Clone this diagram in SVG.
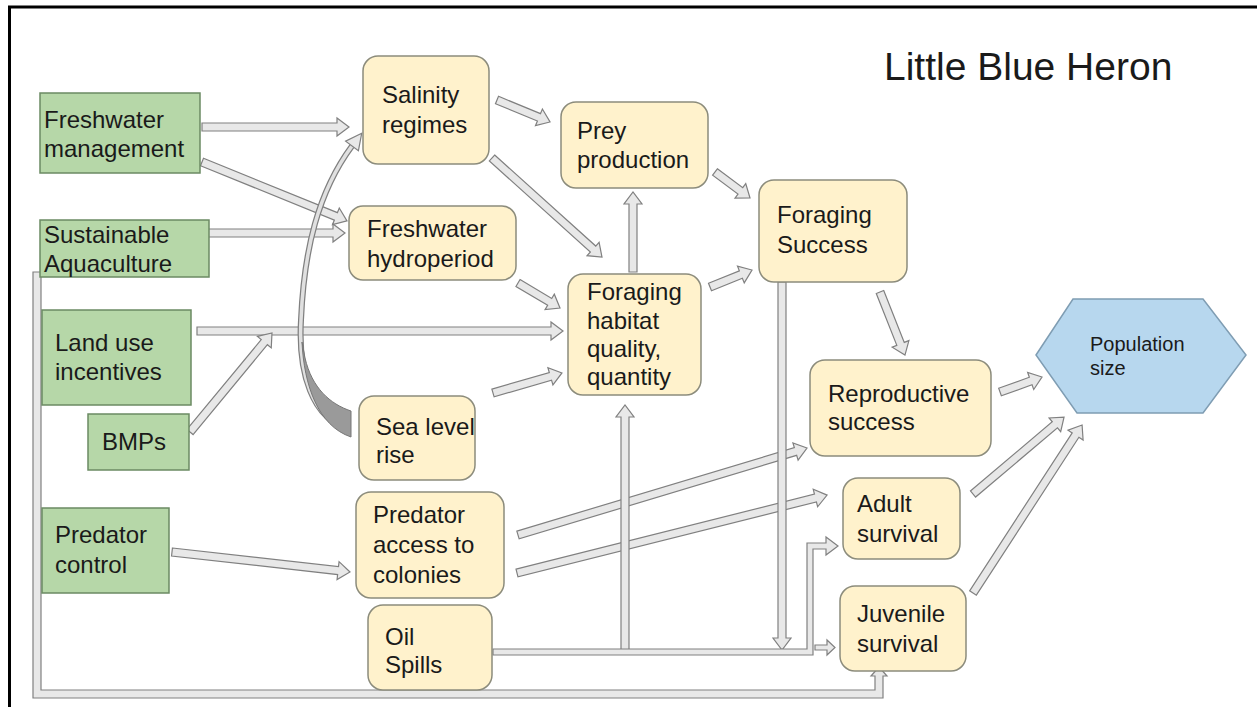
<svg xmlns="http://www.w3.org/2000/svg" width="1257" height="707" viewBox="0 0 1257 707">
<style>
.g{fill:#b6d7a8;stroke:#6b8a63;stroke-width:1.5}
.b{fill:#fff2cc;stroke:#8c8c7c;stroke-width:1.5}
.h{fill:#b7d7ee;stroke:#7f9db3;stroke-width:1.5}
.t{font-family:"Liberation Sans",Arial,sans-serif;font-size:24px;fill:#1a1a1a}
.ar{fill:#e8e8e8;stroke:#808080;stroke-width:1.2}
</style>
<rect width="1257" height="707" fill="#ffffff"/>
<g id="frame" stroke="#000" stroke-width="3">
<line x1="8" y1="7" x2="1257" y2="7"/>
<line x1="9.5" y1="7" x2="9.5" y2="707"/>
</g>
<text x="884" y="80" font-family="Liberation Sans,Arial,sans-serif" font-size="39" fill="#1a1a1a">Little Blue Heron</text>
<g id="connectors">
<path class="ar" transform="translate(202,127)" d="M0,-4 H135 V-9 L147,0 L135,9 V4 H0 Z"/>
<path class="ar" transform="translate(202,162) rotate(22.1)" d="M0,-4 H144.5 V-9 L156.5,0 L144.5,9 V4 H0 Z"/>
<path class="ar" transform="translate(208,233)" d="M0,-4 H125 V-9 L137,0 L125,9 V4 H0 Z"/>
<path class="ar" transform="translate(197,331)" d="M0,-4 H354 V-9 L366,0 L354,9 V4 H0 Z"/>
<path d="M349,428 C312,420 298,372 301,320 C304,250 318,192 352,146" fill="none" stroke="#808080" stroke-width="6"/>
<path d="M349,428 C312,420 298,372 301,320 C304,250 318,192 352,146" fill="none" stroke="#e0e0e0" stroke-width="3.5"/>
<path d="M351,411 C330,404 312,388 305,358 L302,342 C304,385 318,426 351,437 Z" fill="#9a9a9a" stroke="#777" stroke-width="1"/>
<path class="ar" d="M361.7,133.3 L358.4,150.8 L345.6,141.2 Z"/>
<path class="ar" transform="translate(190,432) rotate(-50.4)" d="M0,-4 H116.6 V-9 L128.6,0 L116.6,9 V4 H0 Z"/>
<path class="ar" transform="translate(497,100) rotate(22.5)" d="M0,-4 H45.4 V-9 L57.4,0 L45.4,9 V4 H0 Z"/>
<path class="ar" transform="translate(492,158) rotate(42)" d="M0,-4 H136 V-9 L148,0 L136,9 V4 H0 Z"/>
<path class="ar" transform="translate(518,283) rotate(30.8)" d="M0,-4 H36.9 V-9 L48.9,0 L36.9,9 V4 H0 Z"/>
<path class="ar" transform="translate(633,272) rotate(-90)" d="M0,-4 H68 V-9 L80,0 L68,9 V4 H0 Z"/>
<path class="ar" transform="translate(715,172) rotate(36.6)" d="M0,-4 H31.6 V-9 L43.6,0 L31.6,9 V4 H0 Z"/>
<path class="ar" transform="translate(710,287) rotate(-22)" d="M0,-4 H33.3 V-9 L45.3,0 L33.3,9 V4 H0 Z"/>
<path class="ar" transform="translate(493,393) rotate(-16.2)" d="M0,-4 H59.8 V-9 L71.8,0 L59.8,9 V4 H0 Z"/>
<path class="ar" transform="translate(880,292) rotate(68.4)" d="M0,-4 H55.8 V-9 L67.8,0 L55.8,9 V4 H0 Z"/>
<path class="ar" transform="translate(1000,392) rotate(-19.7)" d="M0,-4 H32.6 V-9 L44.6,0 L32.6,9 V4 H0 Z"/>
<path class="ar" transform="translate(973,494) rotate(-40.2)" d="M0,-4 H107.2 V-9 L119.2,0 L107.2,9 V4 H0 Z"/>
<path class="ar" transform="translate(973,593) rotate(-57)" d="M0,-4 H188.3 V-9 L200.3,0 L188.3,9 V4 H0 Z"/>
<path class="ar" transform="translate(172,552) rotate(6.4)" d="M0,-4 H167.1 V-9 L179.1,0 L167.1,9 V4 H0 Z"/>
<path class="ar" transform="translate(518,535) rotate(-16.75)" d="M0,-4 H289.8 V-9 L301.8,0 L289.8,9 V4 H0 Z"/>
<path class="ar" transform="translate(517,573) rotate(-14.1)" d="M0,-4 H307.7 V-9 L319.7,0 L307.7,9 V4 H0 Z"/>
<path class="ar" transform="translate(625,650) rotate(-90)" d="M0,-4 H233 V-9 L245,0 L233,9 V4 H0 Z"/>
<path class="ar" transform="translate(782,282) rotate(90)" d="M0,-4 H356 V-9 L368,0 L356,9 V4 H0 Z"/>
<path class="ar" d="M493,649 H807 V543 H826 V537 L838,546 L826,555 V549 H813 V655 H493 Z"/>
<path class="ar" d="M815,645 H827 V640 L835,647.5 L827,655 V650 H815 Z"/>
<path class="ar" d="M33,272 H41 V690 H875 V676 H871 L879,667 L887,676 H883 V698 H33 Z"/>
</g>
<g id="n-fwm"><rect class="g" x="40" y="93" width="160" height="80"/><text class="t" x="44" y="128">Freshwater</text><text class="t" x="44" y="157">management</text></g>
<g id="n-aqua"><rect class="g" x="40" y="220" width="169" height="57"/><text class="t" x="44" y="243">Sustainable</text><text class="t" x="44" y="272">Aquaculture</text></g>
<g id="n-land"><rect class="g" x="42" y="310" width="149" height="95"/><text class="t" x="55" y="351">Land use</text><text class="t" x="55" y="380">incentives</text></g>
<g id="n-bmp"><rect class="g" x="88" y="414" width="101" height="56"/><text class="t" x="102" y="450">BMPs</text></g>
<g id="n-predc"><rect class="g" x="42" y="508" width="127" height="85"/><text class="t" x="55" y="543">Predator</text><text class="t" x="55" y="573">control</text></g>
<g id="n-sal"><rect class="b" x="363" y="56" width="126" height="108" rx="15"/><text class="t" x="382" y="103">Salinity</text><text class="t" x="382" y="133">regimes</text></g>
<g id="n-hydro"><rect class="b" x="349" y="206" width="167" height="74" rx="14"/><text class="t" x="367" y="237">Freshwater</text><text class="t" x="367" y="267">hydroperiod</text></g>
<g id="n-prey"><rect class="b" x="561" y="102" width="147" height="86" rx="15"/><text class="t" x="577" y="139">Prey</text><text class="t" x="577" y="168">production</text></g>
<g id="n-fhab"><rect class="b" x="568" y="274" width="133" height="121" rx="15"/><text class="t" x="587" y="300">Foraging</text><text class="t" x="587" y="329">habitat</text><text class="t" x="587" y="357">quality,</text><text class="t" x="587" y="385">quantity</text></g>
<g id="n-fsucc"><rect class="b" x="759" y="180" width="148" height="102" rx="15"/><text class="t" x="777" y="223">Foraging</text><text class="t" x="777" y="253">Success</text></g>
<g id="n-sea"><rect class="b" x="359" y="396" width="116" height="84" rx="15"/><text class="t" x="376" y="435">Sea level</text><text class="t" x="376" y="463">rise</text></g>
<g id="n-preda"><rect class="b" x="356" y="492" width="148" height="106" rx="15"/><text class="t" x="373" y="523">Predator</text><text class="t" x="373" y="553">access to</text><text class="t" x="373" y="583">colonies</text></g>
<g id="n-oil"><rect class="b" x="368" y="605" width="124" height="85" rx="15"/><text class="t" x="385" y="645">Oil</text><text class="t" x="385" y="673">Spills</text></g>
<g id="n-repro"><rect class="b" x="810" y="360" width="181" height="96" rx="15"/><text class="t" x="828" y="402">Reproductive</text><text class="t" x="828" y="430">success</text></g>
<g id="n-adult"><rect class="b" x="843" y="478" width="117" height="81" rx="15"/><text class="t" x="857" y="512">Adult</text><text class="t" x="857" y="542">survival</text></g>
<g id="n-juv"><rect class="b" x="840" y="586" width="126" height="85" rx="15"/><text class="t" x="857" y="622">Juvenile</text><text class="t" x="857" y="652">survival</text></g>
<g id="n-pop"><polygon class="h" points="1036,355 1073,299 1203,299 1246,355 1203,413 1077,413"/><text class="t" x="1090" y="351" font-size="20" style="font-size:20px">Population</text><text class="t" x="1090" y="375" style="font-size:20px">size</text></g>
</svg>
